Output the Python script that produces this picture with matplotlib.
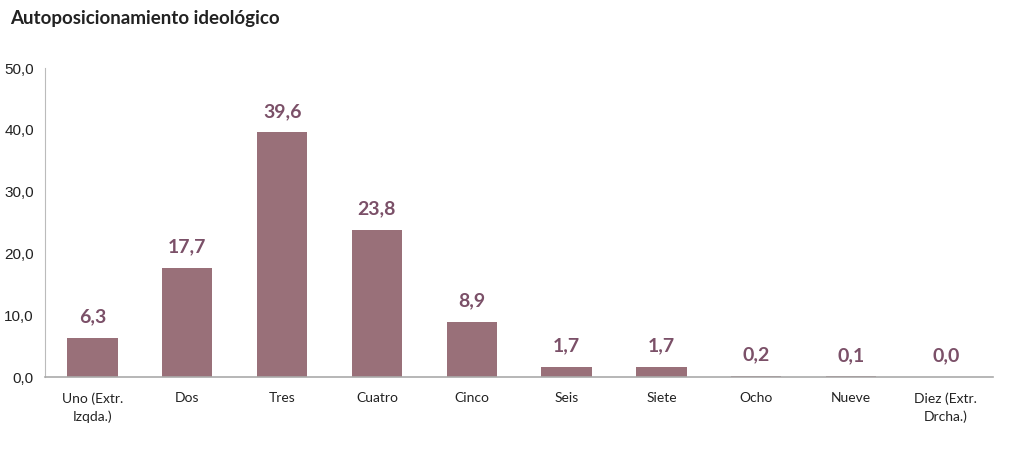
import matplotlib.pyplot as plt
import numpy as np

categories = ["Uno (Extr.\nIzqda.)", "Dos", "Tres", "Cuatro", "Cinco",
              "Seis", "Siete", "Ocho", "Nueve", "Diez (Extr.\nDrcha.)"]
values = [6.3, 17.7, 39.6, 23.8, 8.9, 1.7, 1.7, 0.2, 0.1, 0.0]
yticks = [0, 10, 20, 30, 40, 50]

bar_color = "#997079"
label_color = "#7b5068"

fig = plt.figure(figsize=(10.24, 4.57), dpi=100)
ax = fig.add_axes([0.044, 0.175, 0.926, 0.676])

x = np.arange(len(categories))
ax.bar(x, values, width=0.53, color=bar_color, zorder=2)

for xi, v in zip(x, values):
    ax.text(xi, v + 2.0, f"{v:.1f}".replace(".", ","), ha="center", va="bottom",
            fontsize=14, fontweight="bold", color=label_color, family="Lato")

ax.set_xlim(-0.5, len(categories) - 0.5)
ax.set_ylim(0, 50)
ax.set_yticks(yticks)
ax.set_yticklabels([f"{t:.1f}".replace(".", ",") for t in yticks],
                   fontsize=11, family="Liberation Sans", color="#222222")
ax.set_xticks(x)
ax.set_xticklabels(categories, fontsize=10, family="Lato", color="#222222",
                   linespacing=1.5)
ax.tick_params(axis="both", length=0)
ax.tick_params(axis="x", pad=11)
ax.tick_params(axis="y", pad=8)

for s in ["top", "right"]:
    ax.spines[s].set_visible(False)
ax.spines["left"].set_color("#bbbbbb")
ax.spines["bottom"].set_color("#aaaaaa")
ax.spines["bottom"].set_linewidth(1.2)

fig.text(0.01, 0.96, "Autoposicionamiento ideológico", fontsize=13.5,
         fontweight="bold", family="Lato", color="#222222", va="center")

fig.savefig("out.png", dpi=100)
